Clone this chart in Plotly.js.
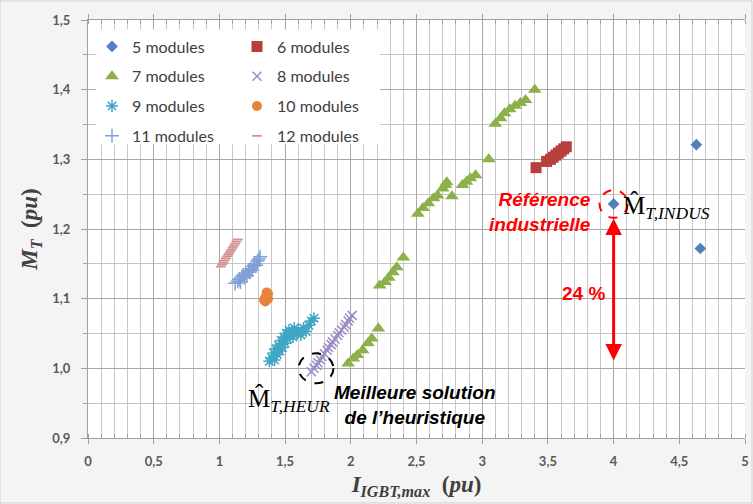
<!DOCTYPE html>
<html>
<head>
<meta charset="utf-8">
<script src="https://cdn.plot.ly/plotly-3.0.1.min.js"></script>
<style>html,body{margin:0;padding:0;background:#f4f4f4;}#chart{width:753px;height:504px;}</style>
</head>
<body>
<div id="chart"></div>
<script>
// ---- data ----
const seriesNames = ["5 modules","6 modules","7 modules","8 modules","9 modules","10 modules","11 modules","12 modules"];

const x5 = [4.00, 4.63, 4.66];
const y5 = [1.236, 1.321, 1.172];

const x6 = [3.41, 3.49, 3.52, 3.54, 3.56, 3.58, 3.60, 3.62, 3.64];
const y6 = [1.288, 1.297, 1.300, 1.303, 1.306, 1.309, 1.312, 1.315, 1.318];

const x7 = [1.98, 2.02, 2.05, 2.09, 2.13, 2.16, 2.21,
            2.22, 2.26, 2.29, 2.32, 2.35, 2.40,
            2.51, 2.55, 2.59, 2.63, 2.66, 2.70, 2.72, 2.73, 2.77, 2.85, 2.88, 2.91, 2.95, 3.05,
            3.10, 3.14, 3.17, 3.21, 3.25, 3.29, 3.33, 3.40];
const y7 = [1.007, 1.014, 1.019, 1.026, 1.036, 1.043, 1.057,
            1.119, 1.124, 1.130, 1.138, 1.145, 1.159,
            1.222, 1.230, 1.237, 1.244, 1.248, 1.258, 1.263, 1.267, 1.247, 1.263, 1.268, 1.273, 1.277, 1.300,
            1.351, 1.359, 1.366, 1.372, 1.377, 1.381, 1.385, 1.400];

const x8 = [1.70, 1.72, 1.74, 1.75, 1.77, 1.78, 1.80, 1.82, 1.83, 1.85, 1.86, 1.88, 1.90, 1.91, 1.93, 1.95, 1.96, 1.98, 1.99, 2.01];
const y8 = [0.995, 1.000, 1.004, 1.008, 1.012, 1.017, 1.021, 1.026, 1.030, 1.034, 1.038, 1.042, 1.047, 1.051, 1.055, 1.059, 1.063, 1.068, 1.072, 1.076];

const x9 = [1.38, 1.40, 1.41, 1.42, 1.43, 1.44, 1.45, 1.46, 1.47, 1.48, 1.49, 1.50, 1.51, 1.52, 1.53, 1.54, 1.55, 1.56, 1.57, 1.59, 1.60, 1.62, 1.64, 1.66, 1.68, 1.70, 1.72];
const y9 = [1.010, 1.015, 1.022, 1.012, 1.028, 1.020, 1.033, 1.025, 1.040, 1.030, 1.045, 1.036, 1.050, 1.042, 1.055, 1.047, 1.052, 1.045, 1.058, 1.050, 1.055, 1.048, 1.058, 1.053, 1.062, 1.068, 1.072];

const x10 = [1.34, 1.35, 1.36, 1.37, 1.35, 1.37, 1.36];
const y10 = [1.098, 1.102, 1.105, 1.107, 1.096, 1.100, 1.109];

const x11 = [1.12, 1.14, 1.15, 1.16, 1.17, 1.18, 1.19, 1.20, 1.21, 1.22, 1.23, 1.24, 1.25, 1.26, 1.27, 1.28, 1.29, 1.30, 1.31];
const y11 = [1.122, 1.125, 1.128, 1.124, 1.131, 1.134, 1.130, 1.137, 1.133, 1.140, 1.138, 1.143, 1.141, 1.147, 1.150, 1.148, 1.154, 1.157, 1.160];

const x12 = [1.01, 1.02, 1.03, 1.04, 1.05, 1.06, 1.07, 1.08, 1.09, 1.10, 1.11, 1.12, 1.13, 1.14];
const y12 = [1.146, 1.149, 1.152, 1.155, 1.158, 1.161, 1.164, 1.167, 1.170, 1.173, 1.176, 1.179, 1.182, 1.185];

const xTickVals = [0, 0.5, 1, 1.5, 2, 2.5, 3, 3.5, 4, 4.5, 5];
const xTickText = ["0", "0,5", "1", "1,5", "2", "2,5", "3", "3,5", "4", "4,5", "5"];
const yTickVals = [0.9, 1.0, 1.1, 1.2, 1.3, 1.4, 1.5];
const yTickText = ["0,9", "1,0", "1,1", "1,2", "1,3", "1,4", "1,5"];

// ---- traces ----
function tr(name, x, y, marker, legend) {
  return {type: "scatter", mode: "markers", name: name, x: x, y: y, marker: marker,
          legend: legend, legendgroup: name, hoverinfo: "x+y+name"};
}
const traces = [
  tr(seriesNames[0], x5, y5, {symbol: "diamond", size: 9, color: "#4F81BD"}, "legend"),
  tr(seriesNames[1], x6, y6, {symbol: "square", size: 11, color: "#B8403C"}, "legend2"),
  tr(seriesNames[2], x7, y7, {symbol: "triangle-up", size: 12, color: "#8DB04A"}, "legend"),
  tr(seriesNames[3], x8, y8, {symbol: "x-thin-open", size: 9, color: "#9C8CC4", line: {width: 1.5, color: "#9C8CC4"}}, "legend2"),
  tr(seriesNames[4], x9, y9, {symbol: "asterisk-open", size: 10, color: "#3FA6C4", line: {width: 1.5, color: "#3FA6C4"}}, "legend"),
  tr(seriesNames[5], x10, y10, {symbol: "circle", size: 10, color: "#E8843A"}, "legend2"),
  tr(seriesNames[6], x11, y11, {symbol: "cross-thin-open", size: 10, color: "#7FA0D4", line: {width: 1.5, color: "#7FA0D4"}}, "legend"),
  tr(seriesNames[7], x12, y12, {symbol: "line-ew-open", size: 7, color: "#D49090", line: {width: 1.8, color: "#D49090"}}, "legend2")
];

const px2paperX = function (px) { return (px - 88) / 657; };
const px2paperY = function (py) { return (438 - py) / 418.5; };

const legendFont = {family: "Lato, 'Open Sans', sans-serif", size: 16, color: "#404040"};

const layout = {
  width: 753, height: 504,
  paper_bgcolor: "#f4f4f4",
  plot_bgcolor: "#ffffff",
  margin: {l: 88, r: 8, t: 20, b: 66},
  showlegend: true,
  legend: {x: px2paperX(92), y: px2paperY(29), xanchor: "left", yanchor: "top",
           bgcolor: "rgba(0,0,0,0)", font: legendFont, tracegroupgap: 6, traceorder: "grouped"},
  legend2: {x: px2paperX(237), y: px2paperY(29), xanchor: "left", yanchor: "top",
            bgcolor: "rgba(0,0,0,0)", font: legendFont, tracegroupgap: 6, traceorder: "grouped"},
  xaxis: {
    range: [0, 5], tickmode: "array", tickvals: xTickVals, ticktext: xTickText,
    showgrid: true, gridcolor: "#a8a8a8", gridwidth: 1,
    minor: {dtick: 0.1, showgrid: true, gridcolor: "#c8c8c8", ticks: "inside", ticklen: 4, tickcolor: "#a0a0a0"},
    ticks: "outside", ticklen: 5, tickcolor: "#a0a0a0", ticklabelstandoff: 6,
    showline: true, linecolor: "#a0a0a0", mirror: "ticks", zeroline: false,
    tickfont: {family: "Lato, sans-serif", size: 13, color: "#595959", weight: "bold"},
    title: {text: "<b><i>I</i><sub><i>IGBT,max</i></sub>  (<i>pu</i>)</b>",
            font: {family: "'Liberation Serif', serif", size: 23, color: "#404040"}, standoff: 8}
  },
  yaxis: {
    range: [0.9, 1.5], tickmode: "array", tickvals: yTickVals, ticktext: yTickText,
    showgrid: true, gridcolor: "#a8a8a8", gridwidth: 1,
    minor: {dtick: 0.05, showgrid: true, gridcolor: "#c4c4c4", ticks: "outside", ticklen: 4, tickcolor: "#a0a0a0"},
    ticks: "outside", ticklen: 6, tickcolor: "#a0a0a0", ticklabelstandoff: 8,
    showline: true, linecolor: "#a0a0a0", zeroline: false,
    tickfont: {family: "Lato, sans-serif", size: 13, color: "#595959", weight: "bold"},
    title: {text: "<b><i>M</i><sub><i>T</i></sub>  (<i>pu</i>)</b>",
            font: {family: "'Liberation Serif', serif", size: 23, color: "#404040"}, standoff: 8}
  },
  shapes: [
    {type: "rect", xref: "paper", yref: "paper", x0: px2paperX(96), x1: px2paperX(380),
     y0: px2paperY(144), y1: px2paperY(29), fillcolor: "#ffffff", line: {width: 0}, layer: "above"},
    {type: "circle", xref: "x", yref: "y", x0: 3.893, x1: 4.107, y0: 1.216, y1: 1.256,
     line: {color: "#ff0000", width: 2, dash: "dash"}},
    {type: "circle", xref: "x", yref: "y", x0: 1.602, x1: 1.868, y0: 0.9785, y1: 1.0215,
     line: {color: "#000000", width: 2, dash: "dash"}},
    {type: "rect", xref: "paper", yref: "paper", x0: -88/657, x1: 1 + 7/657, y0: -65/418.5, y1: 1 + 19/418.5,
     line: {color: "#d0d0d0", width: 1}, fillcolor: "rgba(0,0,0,0)"}
  ],
  annotations: [
    {x: 3.84, y: 1.225, xref: "x", yref: "y", xanchor: "right", yanchor: "middle", align: "right",
     text: "<b><i>Référence<br>industrielle</i></b>", showarrow: false,
     font: {family: "'Liberation Sans', Arial, sans-serif", size: 19, color: "#ff0000"}},
    {x: 4.06, y: 1.232, xref: "x", yref: "y", xanchor: "left", yanchor: "middle",
     text: "M\u0302<sub><i>T,INDUS</i></sub>", showarrow: false,
     font: {family: "'Liberation Serif', 'DejaVu Serif', serif", size: 25, color: "#000000"}},
    {x: 4.0, y: 1.215, xref: "x", yref: "y", ax: 4.0, ay: 1.009, axref: "x", ayref: "y",
     text: "", showarrow: true, arrowside: "end+start", arrowhead: 2, arrowsize: 1.1, arrowwidth: 3,
     arrowcolor: "#ff0000", standoff: 0, startstandoff: 0},
    {x: 3.77, y: 1.108, xref: "x", yref: "y", text: "<b>24 %</b>", showarrow: false,
     font: {family: "'Liberation Sans', Arial, sans-serif", size: 19, color: "#ff0000"}},
    {x: 1.20, y: 0.955, xref: "x", yref: "y", xanchor: "left", yanchor: "middle",
     text: "M\u0302<sub><i>T,HEUR</i></sub>", showarrow: false,
     font: {family: "'Liberation Serif', 'DejaVu Serif', serif", size: 25, color: "#000000"}},
    {x: 3.12, y: 0.948, xref: "x", yref: "y", xanchor: "right", yanchor: "middle", align: "center",
     text: "<b><i>Meilleure solution<br>de l’heuristique</i></b>", showarrow: false,
     font: {family: "'Liberation Sans', Arial, sans-serif", size: 19, color: "#000000"}}
  ]
};

Plotly.newPlot("chart", traces, layout, {displayModeBar: false, staticPlot: true});
</script>
</body>
</html>
